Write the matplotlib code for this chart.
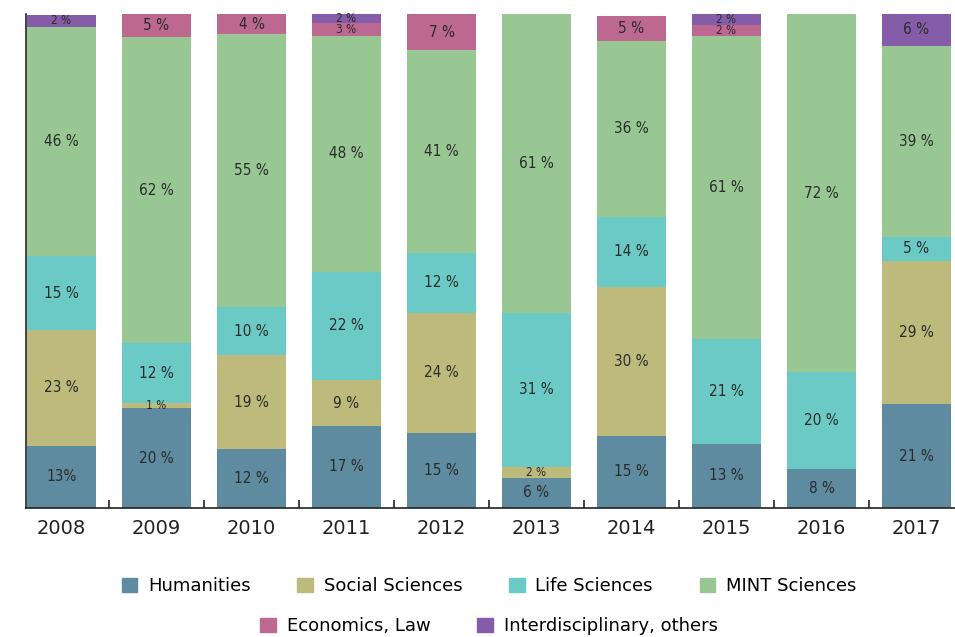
import matplotlib as mpl
import matplotlib.pyplot as plt
import numpy as np
from matplotlib.patches import Patch

mpl.rcParams['font.family'] = ['DejaVu Sans']

years = ["2008", "2009", "2010", "2011", "2012", "2013", "2014", "2015", "2016", "2017"]

# shares in percent
humanities = [12.6, 20.2, 11.9, 16.6, 15.2, 6.1, 14.6, 13.0, 7.9, 21.0]
social = [23.4, 1.0, 19.0, 9.3, 24.3, 2.2, 30.2, 0.0, 0.0, 29.0]
life = [15.0, 12.1, 9.7, 21.9, 12.1, 31.2, 14.2, 21.3, 19.6, 4.9]
mint = [46.4, 62.0, 55.3, 47.8, 41.1, 60.6, 35.6, 61.3, 72.4, 38.7]
economics = [0.0, 4.7, 4.0, 2.6, 7.3, 0.0, 5.0, 2.2, 0.0, 0.0]
interdisc = [2.4, 0.0, 0.0, 1.8, 0.0, 0.0, 0.0, 2.2, 0.0, 6.4]

series = [
    ("Humanities", humanities, "#5f8ba0"),
    ("Social Sciences", social, "#bdba7c"),
    ("Life Sciences", life, "#6ccac6"),
    ("MINT Sciences", mint, "#98c793"),
    ("Economics, Law", economics, "#bd6891"),
    ("Interdisciplinary, others", interdisc, "#845ca8"),
]

fig = plt.figure(figsize=(9.55, 6.37), dpi=100)
ax = fig.add_axes([26/955, 129/637, 929/955, 494/637])

x = np.arange(len(years))
bottom = np.zeros(len(years))
for name, vals, col in series:
    vals = np.array(vals)
    ax.bar(x, vals, width=0.72, bottom=bottom, color=col, label=name)
    for i, v in enumerate(vals):
        if v < 0.5:
            continue
        txt = f"{v:.0f} %"
        if name == "Humanities" and i == 0:
            txt = f"{v:.0f}%"
        fs = 11 if v >= 3 else 8.5
        ax.text(x[i], bottom[i] + v/2, txt, ha="center", va="center",
                fontsize=fs, color="#2b2b2b", fontstretch="condensed")
    bottom += vals

ax.set_xlim(-0.374, 9.405)
ax.set_ylim(0, 100)
ax.set_xticks(x)
ax.set_xticklabels(years, fontsize=14, color="#222222")
ax.set_xticks(x[:-1] + 0.5, minor=True)
ax.tick_params(axis="x", which="major", length=0, pad=8)
ax.tick_params(axis="x", which="minor", direction="in", length=6, width=1.2, color="#222222")
ax.set_yticks([])
for s in ["top", "right"]:
    ax.spines[s].set_visible(False)
for s in ["left", "bottom"]:
    ax.spines[s].set_color("#222222")
    ax.spines[s].set_linewidth(1.2)

h = [Patch(color=c) for _, _, c in series]
labs = [n for n, _, _ in series]
leg_kw = dict(frameon=False, fontsize=13, handlelength=0.85, handleheight=0.85,
              handletextpad=0.6, columnspacing=2.6, loc="center")
leg1 = fig.legend(h[:4], labs[:4], ncol=4, bbox_to_anchor=(489/955, 1 - 586/637), **leg_kw)
leg2 = fig.legend(h[4:], labs[4:], ncol=2, bbox_to_anchor=(489/955, 1 - 626/637), **leg_kw)

fig.savefig("out.png", dpi=100)
